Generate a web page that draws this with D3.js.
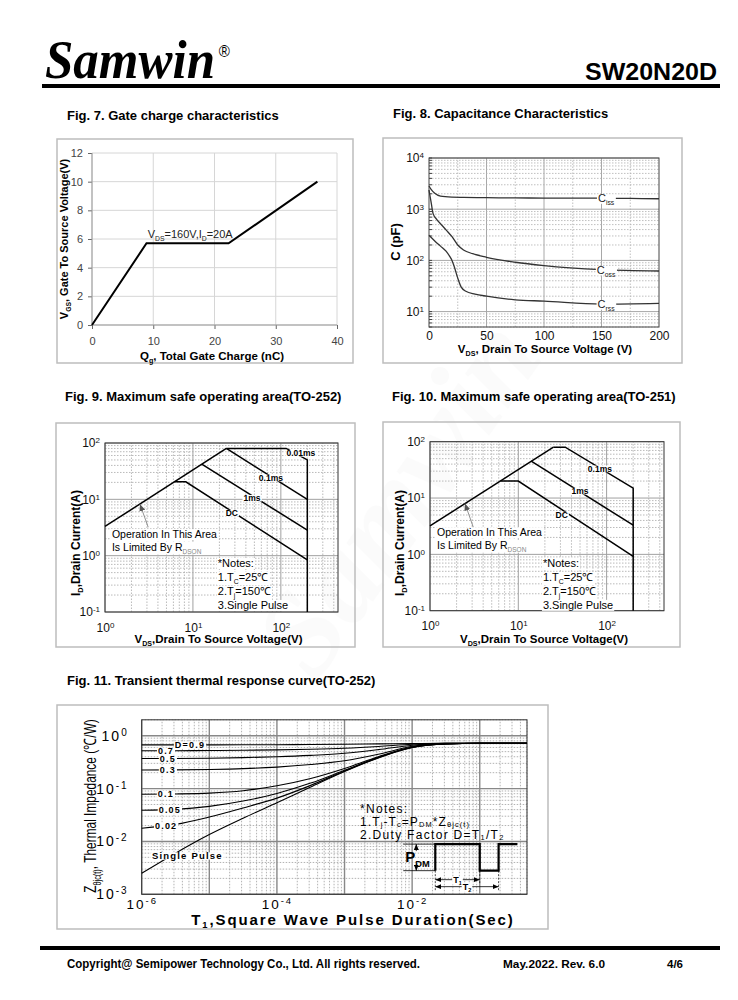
<!DOCTYPE html>
<html>
<head>
<meta charset="utf-8">
<script src="https://cdn.jsdelivr.net/npm/d3@7"></script>
<style>
body { margin: 0; background: #fff; }
svg { display: block; font-family: "Liberation Sans", Arial, sans-serif; }
</style>
</head>
<body>
<svg width="738" height="1000"></svg>
<script>
// ---------- data ----------
// Fig 7 gate charge
const gateQ = [0, 8.9, 22.3, 36.8];
const gateV = [0, 5.7, 5.7, 10];
const gateXTicks = [0, 10, 20, 30, 40];
const gateYTicks = [0, 2, 4, 6, 8, 10, 12];

// Fig 8 capacitance
const capCissV = [0, 2, 5, 10, 20, 30, 50, 75, 100, 125, 150, 175, 200];
const capCissC = [2840, 2400, 2050, 1800, 1720, 1700, 1680, 1660, 1650, 1640, 1650, 1620, 1600];
const capCossV = [0, 1, 2, 3.5, 7, 10, 15, 20, 25, 30, 38, 50, 75, 100, 150, 200];
const capCossC = [2370, 1750, 1300, 830, 620, 520, 390, 290, 200, 160, 135, 115, 92, 79, 66, 62];
const capCrssV = [0, 5, 10, 15, 18, 20, 22, 25, 28, 32, 40, 50, 75, 100, 150, 200];
const capCrssC = [310, 240, 190, 150, 120, 100, 75, 45, 30, 25, 22, 20, 17, 16, 14, 14.5];
const capXTicks = [0, 50, 100, 150, 200];
const capYTicks = [10, 100, 1000, 10000];
const capLabels = ["iss", "oss", "rss"];
const capLabelV = [154, 154, 154];

// Fig 9 SOA TO-252  ([V, I] points)
const soa252Rds = [[1, 3.3], [24, 80]];
const soa252us10 = [[24, 80], [115, 80], [200, 50], [200, 0.1]];
const soa252us100 = [[24, 80], [200, 10]];
const soa252ms1 = [[12.6, 42], [200, 2.85]];
const soa252DC = [[6.2, 20.5], [8.3, 20.5], [200, 0.84]];
const soa252Labels = [["0.01ms", 169, 66], ["0.1ms", 77, 24], ["1ms", 47, 10.5], ["DC", 27.7, 5.7]];

// Fig 10 SOA TO-251
const soa251Rds = [[1, 3.2], [25, 80]];
const soa251us100 = [[25, 80], [34, 80], [200, 15], [200, 0.1]];
const soa251ms1 = [[14, 45], [200, 3.3]];
const soa251DC = [[6.3, 20], [10, 20], [200, 0.92]];
const soa251Labels = [["0.1ms", 84, 33], ["1ms", 50, 13.3], ["DC", 31, 5.0]];

const soaXTicks = [1, 10, 100];
const soaYTicks = [0.1, 1, 10, 100];

// Fig 11 transient thermal impedance
const thermT = [1e-6, 3.16e-6, 1e-5, 3.16e-5, 1e-4, 3.16e-4, 1e-3, 3.16e-3, 1e-2, 3.16e-2, 1e-1, 0.5];
const zD09 = [0.67, 0.67, 0.671, 0.673, 0.676, 0.68, 0.688, 0.70, 0.712, 0.72, 0.72, 0.72];
const zD07 = [0.52, 0.521, 0.525, 0.53, 0.54, 0.555, 0.58, 0.625, 0.69, 0.718, 0.72, 0.72];
const zD05 = [0.37, 0.371, 0.375, 0.385, 0.40, 0.425, 0.465, 0.545, 0.66, 0.715, 0.72, 0.72];
const zD03 = [0.225, 0.226, 0.23, 0.238, 0.255, 0.285, 0.335, 0.445, 0.63, 0.71, 0.72, 0.72];
const zD01 = [0.078, 0.079, 0.082, 0.091, 0.113, 0.155, 0.24, 0.40, 0.61, 0.705, 0.72, 0.72];
const zD005 = [0.039, 0.0405, 0.046, 0.058, 0.081, 0.127, 0.222, 0.39, 0.605, 0.70, 0.72, 0.72];
const zD002 = [0.0178, 0.021, 0.029, 0.043, 0.066, 0.115, 0.215, 0.385, 0.60, 0.70, 0.72, 0.72];
const zSingle = [0.0025, 0.006, 0.0135, 0.0275, 0.054, 0.107, 0.21, 0.38, 0.60, 0.70, 0.72, 0.72];
const thermLabelText = ["D=0.9", "0.7", "0.5", "0.3", "0.1", "0.05", "0.02"];
const thermLabelT = [5.18e-6, 2.29e-6, 2.44e-6, 2.44e-6, 2.28e-6, 2.61e-6, 2.3e-6];
const thermXTicks = [1e-6, 1e-4, 1e-2];
const thermYTicks = [1e-3, 1e-2, 1e-1, 1];
// pulse inset: edges in seconds, low/high levels
const pulseT = [0.022, 0.1, 0.19, 0.36];
const pulseZ = [0.0028, 0.0089];

// ---------- helpers ----------
const svg = d3.select("svg");
svg.append("rect").attr("width", 738).attr("height", 1000).attr("fill", "#fff");

const defs = svg.append("defs");
defs.append("marker").attr("id", "arrGrey").attr("markerUnits", "userSpaceOnUse")
    .attr("markerWidth", 7).attr("markerHeight", 6).attr("refX", 7).attr("refY", 3).attr("orient", "auto")
  .append("path").attr("d", "M0,0L7,3L0,6Z").attr("fill", "#555");
defs.append("marker").attr("id", "arrBlack").attr("markerUnits", "userSpaceOnUse")
    .attr("markerWidth", 6).attr("markerHeight", 5).attr("refX", 6).attr("refY", 2.5).attr("orient", "auto-start-reverse")
  .append("path").attr("d", "M0,0L6,2.5L0,5Z").attr("fill", "#000");

function box(x0, y0, x1, y1) {
  svg.append("rect").attr("x", x0).attr("y", y0).attr("width", x1 - x0).attr("height", y1 - y0)
    .attr("fill", "none").attr("stroke", "#bdbdbd").attr("stroke-width", 1.5);
}

function title(x, y, s) {
  svg.append("text").attr("x", x).attr("y", y).attr("font-size", 13).attr("font-weight", "bold").text(s);
}

// text with sub/superscript parts: ["plain", ["sub", "sub"], ...]
function rich(sel, parts, size, subShift) {
  let cur = 0;
  const sh = subShift == null ? 0.28 : subShift;
  sel.attr("font-size", size);
  parts.forEach(p => {
    const s = Array.isArray(p) ? p[0] : p;
    const k = Array.isArray(p) ? p[1] : null;
    const off = k === "sub" ? size * sh : k === "sup" ? -size * 0.42 : 0;
    const ts = sel.append("tspan").text(s).attr("dy", off - cur);
    if (k) ts.attr("font-size", size * 0.62);
    cur = off;
  });
  return sel;
}

// label with white background
function bgLabel(g, x, y, parts, size, weight, spacing) {
  const t = g.append("text").attr("x", x).attr("y", y + size * 0.35).attr("text-anchor", "middle")
    .attr("font-weight", weight || "normal").attr("letter-spacing", spacing || 0);
  rich(t, parts, size);
  const bb = t.node().getBBox();
  g.insert("rect", () => t.node()).attr("x", bb.x - 1).attr("y", bb.y + bb.height * 0.18)
    .attr("width", bb.width + 2).attr("height", bb.height * 0.66).attr("fill", "#fff");
  return t;
}

function logTicks(lo, hi) {
  const out = [];
  for (let e = Math.floor(Math.log10(lo)); e <= Math.ceil(Math.log10(hi)); e++) {
    for (let m = 1; m < 10; m++) {
      const v = m * Math.pow(10, e);
      if (v >= lo * 0.999 && v <= hi * 1.001) out.push(v);
    }
  }
  return out;
}
const isDecade = v => Math.abs(Math.log10(v) - Math.round(Math.log10(v))) < 1e-6;

function grid(g, x, y, xv, yv, majX, majY, minC, majC, majW) {
  const [xa, xb] = x.range(), [ya, yb] = y.range();
  g.append("g").selectAll("line").data(xv).join("line")
    .attr("x1", d => x(d)).attr("x2", d => x(d)).attr("y1", ya).attr("y2", yb)
    .attr("stroke", d => majX(d) ? majC : minC).attr("stroke-width", d => majX(d) ? majW : 0.8)
    .attr("stroke-dasharray", d => majX(d) ? null : "1.5,1.5");
  g.append("g").selectAll("line").data(yv).join("line")
    .attr("x1", xa).attr("x2", xb).attr("y1", d => y(d)).attr("y2", d => y(d))
    .attr("stroke", d => majY(d) ? majC : minC).attr("stroke-width", d => majY(d) ? majW : 0.8)
    .attr("stroke-dasharray", d => majY(d) ? null : "1.5,1.5");
}

function styleAxis(a, size, color) {
  a.attr("font-family", null).attr("font-size", null);
  a.select(".domain").remove();
  a.selectAll(".tick line").attr("stroke", "#666");
  a.selectAll(".tick text").attr("font-size", size).attr("fill", color);
}

function supLabels(a, expSize, spacing) {
  a.selectAll(".tick text").each(function(d) {
    const t = d3.select(this);
    const e = Math.round(Math.log10(d));
    t.text(null).attr("letter-spacing", spacing || 0);
    t.append("tspan").text("10");
    t.append("tspan").attr("dy", "-0.5em").attr("font-size", expSize).text(e);
  });
}

function interpLog(ts, zs, t) {
  for (let i = 1; i < ts.length; i++) {
    if (t <= ts[i]) {
      const f = (Math.log(t) - Math.log(ts[i - 1])) / (Math.log(ts[i]) - Math.log(ts[i - 1]));
      return Math.exp(Math.log(zs[i - 1]) + f * (Math.log(zs[i]) - Math.log(zs[i - 1])));
    }
  }
  return zs[zs.length - 1];
}

// very faint watermark
svg.append("text").attr("transform", "translate(430,520) rotate(-55)").attr("text-anchor", "middle")
  .attr("font-family", "'Liberation Serif', serif").attr("font-style", "italic").attr("font-weight", "bold")
  .attr("font-size", 120).attr("fill", "#000").attr("opacity", 0.012).text("Samwin");

// ---------- header / footer ----------
const logo = svg.append("text").attr("transform", "translate(45,78) scale(0.944,1)")
  .attr("font-family", "'Liberation Serif', serif").attr("font-size", 54);
logo.append("tspan").attr("font-style", "italic").attr("font-weight", "bold").text("Samwin");
logo.append("tspan").attr("font-family", "'Liberation Sans', sans-serif").attr("font-size", 16)
  .attr("dx", 4).attr("dy", -21).text("®");
svg.append("text").attr("x", 717).attr("y", 80).attr("text-anchor", "end").attr("font-weight", "bold")
  .attr("font-size", 24).attr("textLength", 132).attr("lengthAdjust", "spacingAndGlyphs").text("SW20N20D");
svg.append("rect").attr("x", 42).attr("y", 84).attr("width", 678).attr("height", 4).attr("fill", "#000");

svg.append("rect").attr("x", 40).attr("y", 946).attr("width", 680).attr("height", 4).attr("fill", "#000");
svg.append("text").attr("x", 67).attr("y", 968).attr("font-weight", "bold").attr("font-size", 12)
  .attr("textLength", 353).attr("lengthAdjust", "spacingAndGlyphs")
  .text("Copyright@ Semipower Technology Co., Ltd. All rights reserved.");
svg.append("text").attr("x", 503).attr("y", 968).attr("font-weight", "bold").attr("font-size", 11)
  .attr("textLength", 102).attr("lengthAdjust", "spacingAndGlyphs").text("May.2022. Rev. 6.0");
svg.append("text").attr("x", 667).attr("y", 968).attr("font-weight", "bold").attr("font-size", 11)
  .attr("textLength", 16).attr("lengthAdjust", "spacingAndGlyphs").text("4/6");

// ---------- Fig 7 ----------
title(67, 120, "Fig. 7. Gate charge characteristics");
box(57, 139, 353, 363);
{
  const g = svg.append("g");
  const x = d3.scaleLinear().domain([0, 40]).range([92, 337]);
  const y = d3.scaleLinear().domain([0, 12]).range([325, 153]);
  grid(g, x, y, gateXTicks, gateYTicks, () => true, () => true, "#d6d6d6", "#d6d6d6", 1);
  const ax = g.append("g").attr("transform", `translate(0,${y(0)})`)
    .call(d3.axisBottom(x).tickValues(gateXTicks).tickSize(4).tickPadding(8));
  styleAxis(ax, 11, "#444");
  const ay = g.append("g").attr("transform", `translate(${x(0)},0)`)
    .call(d3.axisLeft(y).tickValues(gateYTicks).tickSize(4).tickPadding(5));
  styleAxis(ay, 11, "#444");
  g.append("line").attr("x1", x(0)).attr("x2", x(40)).attr("y1", y(0)).attr("y2", y(0)).attr("stroke", "#999");
  g.append("line").attr("x1", x(0)).attr("x2", x(0)).attr("y1", y(0)).attr("y2", y(12)).attr("stroke", "#999");
  g.append("path").datum(d3.zip(gateQ, gateV))
    .attr("d", d3.line().x(d => x(d[0])).y(d => y(d[1])))
    .attr("fill", "none").attr("stroke", "#000").attr("stroke-width", 2);
  rich(g.append("text").attr("x", x(9.1)).attr("y", y(6.05)).attr("fill", "#222"),
    ["V", ["DS", "sub"], "=160V,I", ["D", "sub"], "=20A"], 11);
  rich(g.append("text").attr("transform", "translate(68,239) rotate(-90)").attr("text-anchor", "middle")
    .attr("font-weight", "bold"), ["V", ["GS", "sub"], ",  Gate To  Source Voltage(V)"], 11);
  rich(g.append("text").attr("x", 212).attr("y", 360).attr("text-anchor", "middle").attr("font-weight", "bold"),
    ["Q", ["g", "sub"], ", Total Gate Charge (nC)"], 11.5);
}

// ---------- Fig 8 ----------
title(393, 118, "Fig. 8. Capacitance Characteristics");
box(383, 138, 682, 363);
{
  const g = svg.append("g");
  const x = d3.scaleLinear().domain([0, 200]).range([429, 659]);
  const y = d3.scaleLog().domain([5, 1e4]).range([327, 158]);
  grid(g, x, y, [25, 50, 75, 100, 125, 150, 175], logTicks(5, 1e4),
    d => d % 50 === 0, isDecade, "#b0b0b0", "#a8a8a8", 1);
  g.append("rect").attr("x", 429).attr("y", 158).attr("width", 230).attr("height", 169)
    .attr("fill", "none").attr("stroke", "#444");
  const ax = g.append("g").attr("transform", `translate(0,${y.range()[0]})`)
    .call(d3.axisBottom(x).tickValues(capXTicks).tickSize(0).tickPadding(4));
  styleAxis(ax, 12, "#111");
  const ay = g.append("g").attr("transform", `translate(${x(0)},0)`)
    .call(d3.axisLeft(y).tickValues(capYTicks).tickSize(0).tickPadding(5));
  styleAxis(ay, 12, "#111");
  supLabels(ay, 8);
  // minor tick marks on left axis
  g.append("g").selectAll("line").data(logTicks(5, 1e4)).join("line")
    .attr("x1", x(0)).attr("x2", x(0) + 3).attr("y1", d => y(d)).attr("y2", d => y(d)).attr("stroke", "#444");
  const line = d3.line().x(d => x(d[0])).y(d => y(d[1])).curve(d3.curveMonotoneX);
  const series = [[capCissV, capCissC], [capCossV, capCossC], [capCrssV, capCrssC]];
  series.forEach(s => g.append("path").datum(d3.zip(s[0], s[1])).attr("d", line)
    .attr("fill", "none").attr("stroke", "#333").attr("stroke-width", 1.3));
  series.forEach((s, i) => bgLabel(g, x(capLabelV[i]), y(interpLog(s[0].map(v => v + 1), s[1], capLabelV[i] + 1)),
    ["C", [capLabels[i], "sub"]], 11, "normal", 0).attr("fill", "#222"));
  g.append("text").attr("transform", "translate(400,242) rotate(-90)").attr("text-anchor", "middle")
    .attr("font-weight", "bold").attr("font-size", 13).text("C  (pF)");
  rich(g.append("text").attr("x", 545).attr("y", 353).attr("text-anchor", "middle").attr("font-weight", "bold"),
    ["V", ["DS", "sub"], ", Drain To Source Voltage (V)"], 11.5);
}

// ---------- Fig 9 / 10 ----------
function drawSOA(o) {
  const g = svg.append("g");
  const x = d3.scaleLog().domain([1, Math.pow(10, 2.65)]).range([o.x0, o.x1]);
  const y = d3.scaleLog().domain([0.1, 100]).range([o.y1, o.y0]);
  grid(g, x, y, logTicks(1, Math.pow(10, 2.65)), logTicks(0.1, 100), isDecade, isDecade, "#a8a8a8", "#a0a0a0", 1);
  g.append("rect").attr("x", o.x0).attr("y", o.y0).attr("width", o.x1 - o.x0).attr("height", o.y1 - o.y0)
    .attr("fill", "none").attr("stroke", "#333");
  const ax = g.append("g").attr("transform", `translate(0,${o.y1})`)
    .call(d3.axisBottom(x).tickValues(soaXTicks).tickSize(0).tickPadding(11));
  styleAxis(ax, 12, "#111");
  supLabels(ax, 8);
  const ay = g.append("g").attr("transform", `translate(${o.x0},0)`)
    .call(d3.axisLeft(y).tickValues(soaYTicks).tickSize(0).tickPadding(5));
  styleAxis(ay, 12, "#111");
  supLabels(ay, 8);
  const line = d3.line().x(d => x(d[0])).y(d => y(d[1]));
  o.lines.forEach(pts => g.append("path").datum(pts).attr("d", line)
    .attr("fill", "none").attr("stroke", "#000").attr("stroke-width", 1.5));
  o.labels.forEach(l => bgLabel(g, x(l[1]), y(l[2]), [l[0]], 8.5, "bold", 0));
  // R_DS(on) annotation
  g.append("line").attr("x1", x(o.arrow[0][0])).attr("y1", y(o.arrow[0][1]))
    .attr("x2", x(o.arrow[1][0])).attr("y2", y(o.arrow[1][1]))
    .attr("stroke", "#777").attr("stroke-width", 0.8).attr("marker-end", "url(#arrGrey)");
  const ox = x(o.op[0]), oy = y(o.op[1]);
  const t1 = g.append("text").attr("x", ox).attr("y", oy).attr("font-size", 10.5).text("Operation In This Area");
  const t2 = rich(g.append("text").attr("x", ox).attr("y", oy + 12.5), ["Is Limited By R", ["DSON", "sub"]], 10.5);
  [t1, t2].forEach(t => {
    const bb = t.node().getBBox();
    g.insert("rect", () => t.node()).attr("x", bb.x - 1).attr("y", bb.y + 1).attr("width", bb.width + 2)
      .attr("height", bb.height - 1).attr("fill", "#fff");
  });
  t2.selectAll("tspan").filter((d, i) => i === 1).attr("fill", "#888");
  // notes
  const nx = x(o.notes[0]), ny = y(o.notes[1]);
  const notes = [["*Notes:"], ["1.T", ["C", "sub"], "=25℃"], ["2.T", ["j", "sub"], "=150℃"], ["3.Single Pulse"]];
  notes.forEach((n, i) => {
    const t = rich(g.append("text").attr("x", nx).attr("y", ny + i * 14), n, 11);
    const bb = t.node().getBBox();
    g.insert("rect", () => t.node()).attr("x", bb.x - 1).attr("y", bb.y + 1).attr("width", bb.width + 2)
      .attr("height", bb.height - 1).attr("fill", "#fff");
  });
  rich(g.append("text").attr("transform", `translate(${o.ylx},543) rotate(-90)`).attr("text-anchor", "middle")
    .attr("font-weight", "bold"), ["I", ["D", "sub"], ",Drain Current(A)"], 12);
  rich(g.append("text").attr("x", (o.x0 + o.x1) / 2 - 3).attr("y", 643).attr("text-anchor", "middle")
    .attr("font-weight", "bold"), ["V", ["DS", "sub"], ",Drain To Source Voltage(V)"], 11.5);
}

title(65, 401, "Fig. 9. Maximum safe operating area(TO-252)");
box(56, 423, 355, 647);
drawSOA({
  x0: 105, x1: 338, y0: 443, y1: 612, ylx: 80,
  lines: [soa252Rds, soa252us10, soa252us100, soa252ms1, soa252DC],
  labels: soa252Labels,
  arrow: [[3.1, 3.2], [2.5, 8.2]],
  op: [1.2, 2.05], notes: [19.2, 0.63]
});

title(392, 401, "Fig. 10. Maximum safe operating area(TO-251)");
box(383, 422, 680, 647);
drawSOA({
  x0: 430, x1: 664, y0: 441.7, y1: 610.7, ylx: 404,
  lines: [soa251Rds, soa251us100, soa251ms1, soa251DC],
  labels: soa251Labels,
  arrow: [[3.1, 3.0], [2.49, 8.0]],
  op: [1.2, 2.1], notes: [19, 0.6]
});

// ---------- Fig 11 ----------
title(67, 685, "Fig. 11. Transient thermal response curve(TO-252)");
box(57, 705, 548, 929);
{
  const g = svg.append("g");
  const x = d3.scaleLog().domain([1e-6, 0.5]).range([141.7, 527]);
  const y = d3.scaleLog().domain([1e-3, 2]).range([894.3, 719.8]);
  grid(g, x, y, logTicks(1e-6, 0.5), logTicks(1e-3, 2), isDecade, isDecade, "#a0a0a0", "#888", 1.4);
  g.append("rect").attr("x", 141.7).attr("y", 719.8).attr("width", 527 - 141.7).attr("height", 894.3 - 719.8)
    .attr("fill", "none").attr("stroke", "#333");
  const ax = g.append("g").attr("transform", "translate(0,894.3)")
    .call(d3.axisBottom(x).tickValues(thermXTicks).tickSize(0).tickPadding(5));
  styleAxis(ax, 13.5, "#000");
  supLabels(ax, 9.5, 2);
  const ay = g.append("g").attr("transform", "translate(141.7,0)")
    .call(d3.axisLeft(y).tickValues(thermYTicks).tickSize(0).tickPadding(13));
  styleAxis(ay, 14, "#000");
  supLabels(ay, 10, 2);

  const line = d3.line().x(d => x(d[0])).y(d => y(d[1])).curve(d3.curveMonotoneX);
  const curves = [zD09, zD07, zD05, zD03, zD01, zD005, zD002, zSingle];
  curves.forEach(z => g.append("path").datum(d3.zip(thermT, z)).attr("d", line)
    .attr("fill", "none").attr("stroke", "#000").attr("stroke-width", 1.1));
  bgLabel(g, x(4.73e-6), y(0.0053), ["Single Pulse"], 9.5, "bold", 1.2);
  // draw from the bottom label up so "D=0.9" stays on top
  d3.range(thermLabelText.length - 1, -1, -1).forEach(i =>
    bgLabel(g, x(thermLabelT[i]), y(interpLog(thermT, curves[i], thermLabelT[i])),
      [thermLabelText[i]], 9, "bold", 1.2));

  // notes
  const nx = 360;
  g.append("text").attr("x", nx).attr("y", 813).attr("font-size", 12).attr("letter-spacing", 1.3).text("*Notes:");
  rich(g.append("text").attr("x", nx).attr("y", 826).attr("letter-spacing", 1.1),
    ["1.T", ["j", "sub"], "-T", ["c", "sub"], "=P", ["DM", "sub"], "*Z", ["θjc(t)", "sub"]], 12, 0.12);
  rich(g.append("text").attr("x", nx).attr("y", 839).attr("letter-spacing", 1.3),
    ["2.Duty Factor D=T", ["1", "sub"], "/T", ["2", "sub"]], 12, 0.12);

  // pulse inset
  const lo = y(pulseZ[0]), hi = y(pulseZ[1]);
  const px = pulseT.map(t => x(t));
  g.append("path").attr("d", `M${px[0]},${lo}V${hi}H${px[1]}V${lo}H${px[2]}V${hi}H${px[3]}`)
    .attr("fill", "none").attr("stroke", "#000").attr("stroke-width", 2.2);
  [hi, lo].forEach(v => g.append("line").attr("x1", px[0] - 32).attr("x2", px[0]).attr("y1", v).attr("y2", v)
    .attr("stroke", "#000").attr("stroke-width", 0.8));
  const ax0 = px[0] - 19;
  g.append("line").attr("x1", ax0).attr("x2", ax0).attr("y1", hi + 7).attr("y2", hi)
    .attr("stroke", "#000").attr("stroke-width", 0.8).attr("marker-end", "url(#arrBlack)");
  g.append("line").attr("x1", ax0).attr("x2", ax0).attr("y1", lo - 7).attr("y2", lo)
    .attr("stroke", "#000").attr("stroke-width", 0.8).attr("marker-end", "url(#arrBlack)");
  rich(g.append("text").attr("x", px[0] - 30).attr("y", (hi + lo) / 2 + 5).attr("font-weight", "bold"),
    ["P", ["DM", "sub"]], 15);
  [[px[0], lo + 20], [px[1], lo + 13], [px[2], lo + 20]].forEach(d => g.append("line")
    .attr("x1", d[0]).attr("x2", d[0]).attr("y1", lo).attr("y2", d[1])
    .attr("stroke", "#000").attr("stroke-width", 0.7).attr("stroke-dasharray", "2,1.5"));
  [[px[1], lo + 9, "1"], [px[2], lo + 16, "2"]].forEach(d => {
    g.append("line").attr("x1", px[0]).attr("x2", d[0]).attr("y1", d[1]).attr("y2", d[1])
      .attr("stroke", "#000").attr("stroke-width", 0.8)
      .attr("marker-start", "url(#arrBlack)").attr("marker-end", "url(#arrBlack)");
    bgLabel(g, (px[0] + d[0]) / 2, d[1], ["T", [d[2], "sub"]], 9, "bold", 0);
  });

  rich(g.append("text").attr("transform", "translate(96,806) rotate(-90) scale(0.7,1)").attr("text-anchor", "middle"),
    ["Z", ["θjc(t)", "sub"], ", Thermal Impedance (℃/W)"], 17);
  rich(g.append("text").attr("x", 353).attr("y", 925).attr("text-anchor", "middle").attr("font-weight", "bold")
    .attr("letter-spacing", 1.9), ["T", ["1", "sub"], ",Square Wave Pulse Duration(Sec)"], 15, 0.18);
}
</script>
</body>
</html>
